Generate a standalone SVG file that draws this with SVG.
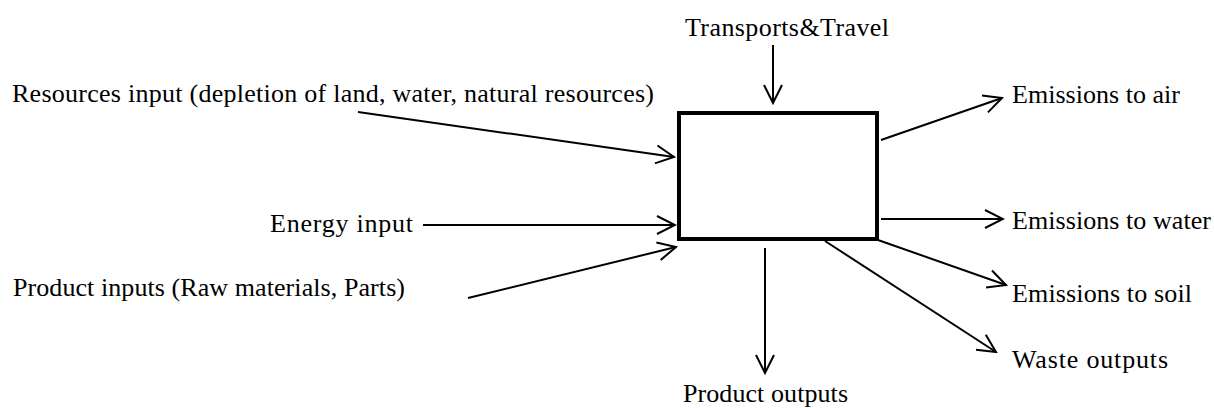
<svg xmlns="http://www.w3.org/2000/svg" width="1214" height="408" viewBox="0 0 1214 408">
<style>
  text { font-family: "Liberation Serif", "Times New Roman", serif; font-size: 26px; fill: #000; }
  .conn { stroke: #000; stroke-width: 2; fill: none; marker-end: url(#arr); }
  .box { fill: #fff; stroke: #000; stroke-width: 4; }
</style>
<defs>
  <marker id="arr" viewBox="-20 -12 22 24" markerWidth="22" markerHeight="24" refX="0" refY="0" orient="auto" markerUnits="userSpaceOnUse">
    <path d="M-18,-9 L0,0 L-18,9" fill="none" stroke="#000" stroke-width="2"/>
  </marker>
</defs>
<rect width="1214" height="408" fill="#fff"/>
<g id="connectors">
  <line class="conn" x1="773" y1="45" x2="773" y2="103"/>
  <line class="conn" x1="358" y1="112" x2="674" y2="157"/>
  <line class="conn" x1="423" y1="225" x2="675" y2="225"/>
  <line class="conn" x1="468" y1="298" x2="676" y2="247"/>
  <line class="conn" x1="881" y1="140" x2="1002" y2="98"/>
  <line class="conn" x1="881" y1="219" x2="1003" y2="219"/>
  <line class="conn" x1="878" y1="240" x2="1006" y2="285"/>
  <line class="conn" x1="825" y1="241" x2="996" y2="352"/>
  <line class="conn" x1="765" y1="248" x2="765" y2="373"/>
</g>
<g id="process">
  <rect class="box" x="679" y="113" width="198" height="126"/>
</g>
<g id="transports"><text x="685" y="36" textLength="204" lengthAdjust="spacing">Transports&amp;Travel</text></g>
<g id="resources"><text x="12" y="102" textLength="642" lengthAdjust="spacing">Resources input (depletion of land, water, natural resources)</text></g>
<g id="energy"><text x="270" y="232" textLength="143" lengthAdjust="spacing">Energy input</text></g>
<g id="product-inputs"><text x="13" y="296" textLength="392" lengthAdjust="spacing">Product inputs (Raw materials, Parts)</text></g>
<g id="emissions-air"><text x="1012" y="103" textLength="168" lengthAdjust="spacing">Emissions to air</text></g>
<g id="emissions-water"><text x="1012" y="229" textLength="199" lengthAdjust="spacing">Emissions to water</text></g>
<g id="emissions-soil"><text x="1012" y="302" textLength="180" lengthAdjust="spacing">Emissions to soil</text></g>
<g id="waste"><text x="1012" y="368" textLength="156" lengthAdjust="spacing">Waste outputs</text></g>
<g id="product-outputs"><text x="683" y="402" textLength="165" lengthAdjust="spacing">Product outputs</text></g>
</svg>
